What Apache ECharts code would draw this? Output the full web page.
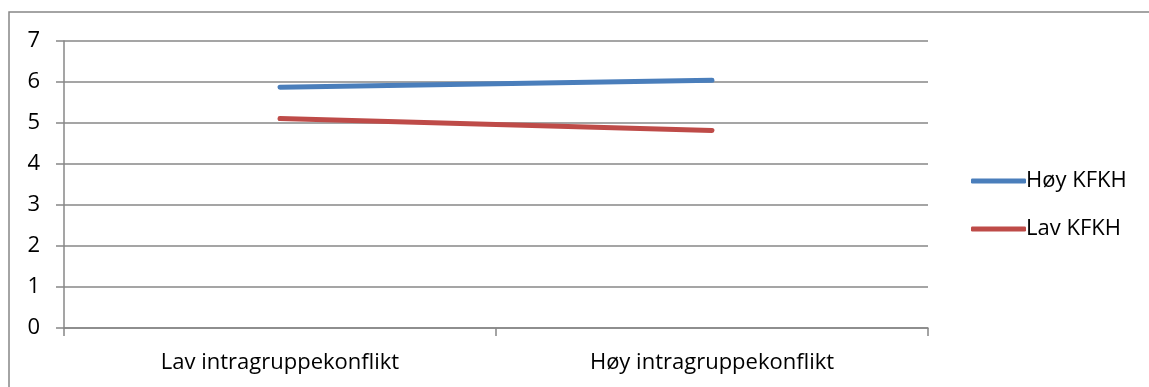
<!DOCTYPE html>
<html><head><meta charset="utf-8">
<script src="https://cdn.jsdelivr.net/npm/echarts@6/dist/echarts.min.js"></script>
<style>html,body{margin:0;padding:0;background:#fff}#c{width:1149px;height:387px}</style>
</head><body><div id="c"></div>
<script>
const categories = ["Lav intragruppekonflikt", "Høy intragruppekonflikt"];
const hoyKFKH = [5.87, 6.04];
const lavKFKH = [5.11, 4.82];
const seriesNames = ["Høy KFKH", "Lav KFKH"];
const FONT = "Open Sans";
const chart = echarts.init(document.getElementById('c'), null, {renderer: 'canvas'});
const axisGray = '#878787';
chart.setOption({
  animation: false,
  backgroundColor: '#fff',
  graphic: [{type: 'rect', shape: {x: 9, y: 12, width: 1200, height: 420}, style: {fill: 'none', stroke: axisGray, lineWidth: 1.5}, silent: true, z: -1}],
  grid: {left: 64, right: 221, top: 41, bottom: 59, containLabel: false},
  legend: {
    orient: 'vertical', left: 966, top: 165, itemWidth: 55, itemHeight: 5, itemGap: 26, icon: 'roundRect',
    textStyle: {fontFamily: FONT, fontSize: 22, color: '#000', padding: [0, 0, 0, -5]},
    data: seriesNames
  },
  xAxis: {
    type: 'category', data: categories, boundaryGap: true,
    axisLine: {lineStyle: {color: axisGray, width: 1.5}},
    axisTick: {show: true, length: 8, lineStyle: {color: axisGray, width: 1.5}},
    axisLabel: {fontFamily: FONT, fontSize: 22, color: '#000', margin: 24}
  },
  yAxis: {
    type: 'value', min: 0, max: 7, interval: 1,
    axisLine: {show: true, lineStyle: {color: axisGray, width: 1.5}},
    axisTick: {show: true, length: 8, lineStyle: {color: axisGray, width: 1.5}},
    splitLine: {show: true, lineStyle: {color: axisGray, width: 1.5}},
    axisLabel: {fontFamily: FONT, fontSize: 22, color: '#000', margin: 24}
  },
  series: [
    {name: seriesNames[0], type: 'line', data: hoyKFKH, symbol: 'none', lineStyle: {color: '#4A7EBB', width: 5, cap: 'round'}, itemStyle: {color: '#4A7EBB'}},
    {name: seriesNames[1], type: 'line', data: lavKFKH, symbol: 'none', lineStyle: {color: '#BE4B48', width: 5, cap: 'round'}, itemStyle: {color: '#BE4B48'}}
  ]
});
</script></body></html>
